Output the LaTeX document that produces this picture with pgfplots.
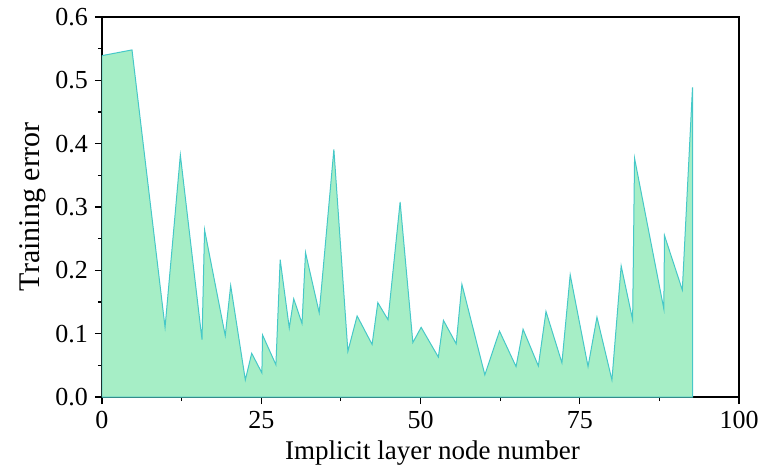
\documentclass[border=0pt]{standalone}
\usepackage{pgfplots}
\pgfplotsset{compat=1.18}
\usepackage{fontspec}
\setmainfont{Liberation Serif}
\definecolor{fillg}{RGB}{166,238,198}
\definecolor{lineg}{RGB}{70,200,200}
\begin{document}
\begin{tikzpicture}
\begin{axis}[
  scale only axis,
  width=318.5pt, height=190pt,
  xmin=0, xmax=100, ymin=0, ymax=0.6,
  xtick={0,25,50,75,100},
  minor xtick={12.5,37.5,62.5,87.5},
  ytick={0,0.1,...,0.6},
  minor ytick={0.05,0.15,...,0.55},
  xtick pos=bottom, ytick pos=left,
  tick align=outside,
  major tick length=3.5pt, minor tick length=2pt,
  every tick/.style={black, line width=0.6pt},
  axis line style={line width=0.65pt},
  /pgf/number format/assume math mode=true,
  yticklabel style={/pgf/number format/fixed, /pgf/number format/fixed zerofill, /pgf/number format/precision=1},
  scaled y ticks=false,
  tick label style={font=\fontsize{13}{15}\selectfont},
  xlabel={Implicit layer node number},
  ylabel={Training error},
  xlabel style={font=\fontsize{13.5}{16}\selectfont, yshift=1pt, xshift=6pt},
  ylabel style={font=\fontsize{15}{18}\selectfont, yshift=-2pt},
]
\addplot[fill=fillg, draw=lineg, line width=0.5pt] table {
x y
0 0.539
4.71 0.548
9.9 0.110
12.3 0.382
15.7 0.0905
16.1 0.264
19.35 0.0968
20.2 0.176
22.5 0.027
23.5 0.069
25.1 0.038
25.2 0.098
27.3 0.051
27.97 0.217
29.4 0.109
30.1 0.155
31.4 0.116
31.95 0.228
34.1 0.133
36.4 0.391
38.6 0.072
40.05 0.128
42.4 0.083
43.3 0.149
44.9 0.122
46.8 0.308
48.8 0.086
50.1 0.110
52.8 0.063
53.6 0.121
55.6 0.084
56.5 0.178
60.1 0.035
62.4 0.104
65.0 0.048
66.1 0.107
68.5 0.049
69.7 0.135
72.2 0.054
73.5 0.193
76.3 0.048
77.7 0.126
80.05 0.027
81.5 0.207
83.3 0.122
83.6 0.377
88.2 0.139
88.3 0.255
91.1 0.169
92.7 0.489
} \closedcycle;
\end{axis}
\pgfresetboundingbox
\path[use as bounding box] ([shift={(-51pt,-39pt)}]current axis.south west) rectangle ([shift={(12pt,8.5pt)}]current axis.north east);
\end{tikzpicture}
\end{document}
